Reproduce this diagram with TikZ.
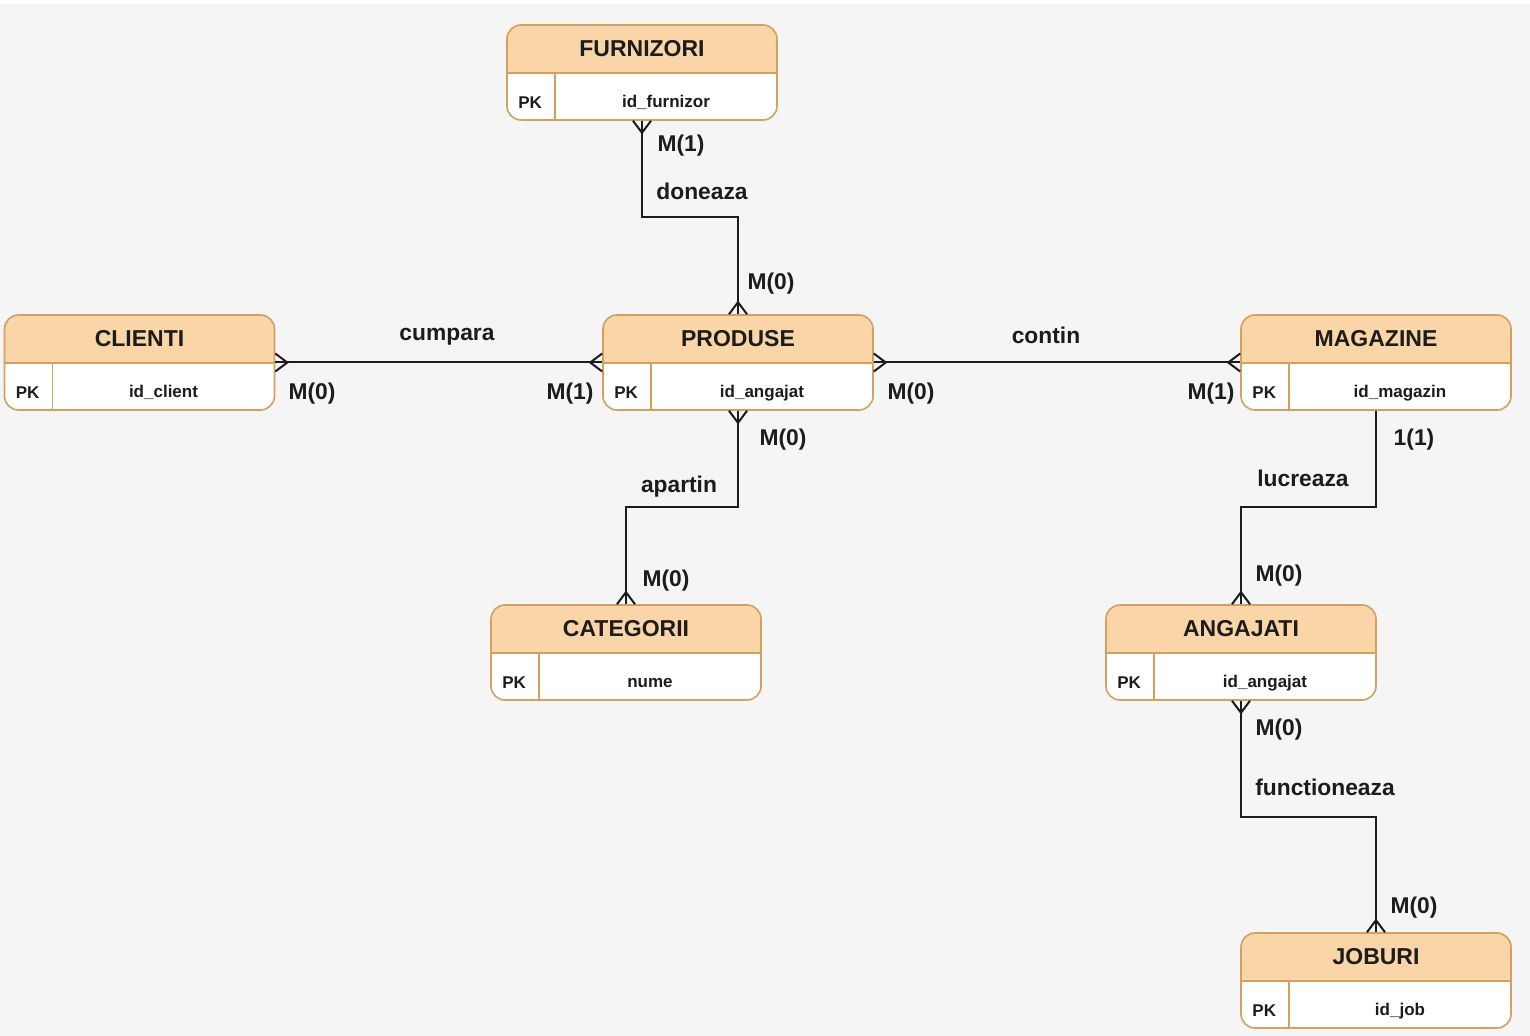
\documentclass[tikz,border=0pt]{standalone}
\usepackage{fontspec}
\setmainfont{Liberation Sans}
\usetikzlibrary{arrows.meta,calc}

\definecolor{bgcol}{RGB}{245,245,245}
\definecolor{headcol}{RGB}{250,213,168}
\definecolor{entline}{RGB}{212,160,96}
\definecolor{linecol}{RGB}{28,28,28}

% crow's foot, centre line runs on into the box
\pgfdeclarearrow{
    name = crowfoot,
    setup code = {
        \pgfarrowssettipend{0pt}
        \pgfarrowssetlineend{0pt}
        \pgfarrowssetbackend{-6pt}
        \pgfarrowshullpoint{0pt}{4.5pt}
        \pgfarrowshullpoint{0pt}{-4.5pt}
        \pgfarrowshullpoint{-6pt}{0pt}
    },
    drawing code = {
        \pgfsetdash{}{0pt}
        \pgfpathmoveto{\pgfqpoint{0pt}{4.5pt}}
        \pgfpathlineto{\pgfqpoint{-6pt}{0pt}}
        \pgfpathlineto{\pgfqpoint{0pt}{-4.5pt}}
        \pgfusepathqstroke
    }
}

\tikzset{
    crow/.tip={crowfoot},
    entity/.style={draw=entline, line width=0.8pt, fill=white, rounded corners=7pt,
        minimum width=135pt, minimum height=47.5pt, inner sep=0pt,
        path picture={
            \fill[headcol,sharp corners] (path picture bounding box.north west)
                rectangle ([yshift=-24pt]path picture bounding box.north east);
            \draw[entline,line width=0.8pt,sharp corners]
                ([yshift=-24pt]path picture bounding box.north west)
                -- ([yshift=-24pt]path picture bounding box.north east);
            \draw[entline,line width=0.8pt,sharp corners]
                ([xshift=24pt,yshift=-24pt]path picture bounding box.north west)
                -- ([xshift=24pt]path picture bounding box.south west);
        }},
    title/.style={font=\fontsize{11.5}{13}\selectfont\bfseries, text=linecol},
    field/.style={font=\fontsize{8.5}{10}\selectfont\bfseries, text=linecol},
    card/.style={font=\fontsize{11.4}{13}\selectfont\bfseries, text=linecol},
    rel/.style={draw=linecol, line width=1pt},
    elbow/.style={to path={|- ($(\tikztostart)!.5!(\tikztotarget)$) -| (\tikztotarget)}}
}

\begin{document}
\begin{tikzpicture}[x=0.5pt,y=-0.5pt]
        % background
        \fill[bgcol] (0,0) rectangle (1530,1036);
        \fill[white] (0,0) rectangle (1530,4);
        \useasboundingbox (0,0) rectangle (1530,1036);

        % entities
        \foreach \n/\x/\y/\t/\f in {furnizori/642/72.5/FURNIZORI/id\_furnizor,
                clienti/139.5/362.5/CLIENTI/id\_client,
                produse/738/362.5/PRODUSE/id\_angajat,
                magazine/1376/362.5/MAGAZINE/id\_magazin,
                categorii/626/652.5/CATEGORII/nume,
                angajati/1241/652.5/ANGAJATI/id\_angajat,
                joburi/1376/980.5/JOBURI/id\_job}{
            \node[entity] (\n) at (\x,\y) {};
            \node[title] (\n-t) at ([yshift=-12pt]\n.north) {\t};
            \node[field] (\n-pk) at ([xshift=12pt,yshift=9pt]\n.south west) {PK};
            \node[field] (\n-f) at ([xshift=12pt,yshift=9pt]\n.south) {\f};
        }

        % relationships
        \draw[rel,crow-crow] (furnizori.south) to[elbow] (produse.north);
        \draw[rel,crow-crow] (clienti.east) -- (produse.west);
        \draw[rel,crow-crow] (produse.east) -- (magazine.west);
        \draw[rel,crow-crow] (produse.south) to[elbow] (categorii.north);
        \draw[rel,-crow] (magazine.south) to[elbow] (angajati.north);
        \draw[rel,crow-crow] (angajati.south) to[elbow] (joburi.north);

        % relationship names
        \foreach \n/\x/\y in {doneaza/702/191, cumpara/447/337, contin/1046/335,
                apartin/679/487, lucreaza/1303/478, functioneaza/1325/787}
            \node[card] (\n) at (\x,\y) {\n};

        % cardinalities
        \foreach \n/\x/\y/\t in {m1/681/146/M(1), m2/771/284/M(0),
                m3/312/394/M(0), m4/570/394/M(1),
                m5/911/394/M(0), m6/1211/394/M(1),
                m7/783/440/M(0), m8/666/581/M(0),
                m9/1414/440/1(1), m10/1279/576/M(0),
                m11/1279/730/M(0), m12/1414/908/M(0)}
            \node[card] (\n) at (\x,\y) {\t};
    \end{tikzpicture}
\end{document}
